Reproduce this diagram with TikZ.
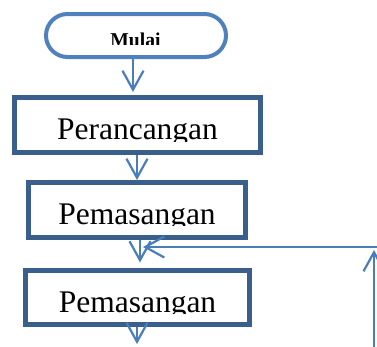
\documentclass[tikz,border=0pt]{standalone}
\usepackage{fontspec}
\setmainfont{Liberation Serif}
\usetikzlibrary{arrows.meta,shapes.misc}
\definecolor{termblue}{HTML}{4F81BD}
\definecolor{boxblue}{HTML}{3A5F8C}
\definecolor{arrblue}{HTML}{4A7EBB}
\tikzset{
  termbox/.style={draw=termblue, line width=4pt, rounded rectangle, minimum width=180pt, minimum height=43pt, inner sep=0pt},
  procbox/.style={draw=boxblue, line width=5pt, rectangle, inner sep=0pt},
  bigtext/.style={anchor=base, inner sep=0pt, font=\fontsize{31.5}{36}\selectfont},
  smalltext/.style={anchor=base, inner sep=0pt, font=\bfseries\fontsize{19.6}{22}\selectfont},
  arr/.style={draw=arrblue, line width=2.2pt, -{Straight Barb[length=19pt,width=21pt,line width=2.2pt]}}
}
\begin{document}
\begin{tikzpicture}[x=1pt,y=-1pt]
\useasboundingbox (0,0) rectangle (377,346);
\node[termbox] (t) at (136,35.5) {};
\node[procbox, minimum width=246pt, minimum height=55pt] (b1) at (137.5,125) {};
\node[procbox, minimum width=217pt, minimum height=55pt] (b2) at (137,210) {};
\node[procbox, minimum width=224pt, minimum height=54.5pt] (b3) at (137.5,297.25) {};
\begin{scope}
  \clip (0,0) rectangle (377,44);
  \node[smalltext] (tt) at (135.5,46.5) {Mulai};
\end{scope}
\begin{scope}
  \clip (0,0) rectangle (377,141);
  \node[bigtext] (t1) at (137.5,139.5) {Perancangan};
\end{scope}
\begin{scope}
  \clip (0,0) rectangle (377,225);
  \node[bigtext] (t2) at (137,224) {Pemasangan};
\end{scope}
\begin{scope}
  \clip (0,0) rectangle (377,313);
  \node[bigtext] (t3) at (137.5,312) {Pemasangan};
\end{scope}
\coordinate (x1) at (133,0);
\coordinate (x2) at (137,0);
\coordinate (x3) at (140,0);
\coordinate (x4) at (137,0);
\coordinate (a4end) at (137,344);
\coordinate (fbR) at (380,247);
\coordinate (fbL) at (143,247);
\coordinate (vB) at (374,350);
\coordinate (vT) at (374,250);
\draw[arr] (t.south -| x1) -- ([yshift=3pt]b1.north -| x1);
\draw[arr] (b1.south -| x2) -- (b2.north -| x2);
\draw[arr] (b2.south -| x3) -- ([yshift=5pt]b3.north -| x3);
\draw[arr] (b3.south -| x4) -- (a4end);
\draw[arr] (fbR) -- (fbL);
\draw[arr] (vB) -- (vT);
\end{tikzpicture}
\end{document}
